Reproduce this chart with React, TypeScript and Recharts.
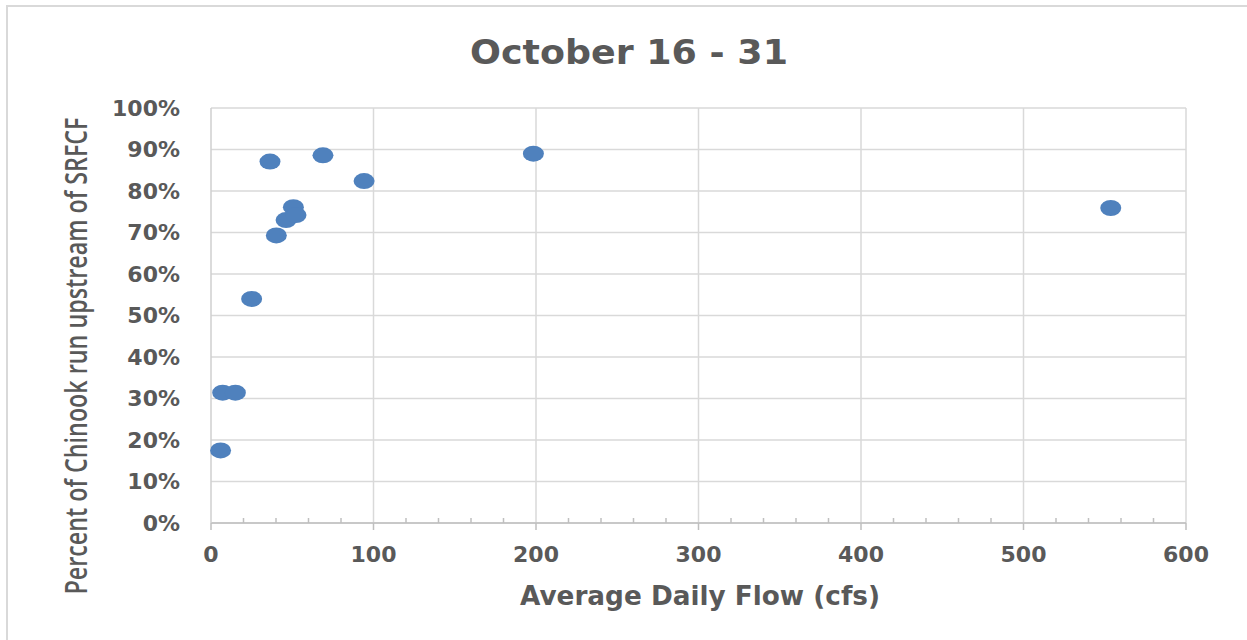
import React from 'react';
import {
  ScatterChart,
  Scatter,
  XAxis,
  YAxis,
  CartesianGrid,
  ReferenceLine
} from 'recharts';

// values
const flowCfs = [5.9, 7.2, 15.0, 25.0, 36.3, 40.2, 46.2, 50.7, 52.3, 68.9, 94.2, 198.4, 553.7];
const pctUpstream = [17.5, 31.4, 31.4, 54.0, 87.1, 69.3, 73.0, 76.1, 74.2, 88.6, 82.4, 89.0, 75.9];

const yTicks = [0, 10, 20, 30, 40, 50, 60, 70, 80, 90, 100];
const xMajorTicks = [0, 100, 200, 300, 400, 500, 600];
const xMinorTicks = [0, 20, 40, 60, 80, 100, 120, 140, 160, 180, 200, 220, 240, 260, 280, 300, 320, 340, 360, 380, 400, 420, 440, 460, 480, 500, 520, 540, 560, 580, 600];

const TEXT = '#595959';
const GRID = '#d9d9d9';
const AXIS = '#bfbfbf';
const DOT = '#4f81bd';

const points = flowCfs.map((x, i) => ({ x, y: pctUpstream[i] }));

// Excel-style dot, a bit wider than tall like the source image
const Ellipse = (props: any) => {
  const { cx, cy } = props;
  return <ellipse cx={cx} cy={cy} rx={10.5} ry={8} fill={DOT} />;
};

// x axis: labels on the hundreds, small minor ticks every 20
const XTick = (props: any) => {
  const { x, y, payload } = props;
  const v = payload.value as number;
  const major = v % 100 === 0;
  return (
    <g>
      {major ? (
        <line x1={x} y1={y} x2={x} y2={y + 7} stroke={AXIS} strokeWidth={1.5} />
      ) : (
        <line x1={x} y1={y - 5} x2={x} y2={y} stroke={AXIS} strokeWidth={1.5} />
      )}
      {major && (
        <text x={x} y={y + 39} textAnchor="middle" fill={TEXT} fontSize={22} fontWeight="bold" fontFamily="DejaVu Sans">
          {v}
        </text>
      )}
    </g>
  );
};

const App: React.FC = () => {
  return (
    <div style={{ position: 'absolute', left: 0, top: 0, width: 1247, height: 640, overflow: 'hidden', background: '#fff' }}>
      <div style={{ position: 'absolute', left: 6, top: 5, width: 1280, height: 680, border: `2px solid ${GRID}`, boxSizing: 'border-box' }} />
      <ScatterChart
        width={1247}
        height={640}
        margin={{ top: 108, right: 61, left: 151, bottom: 77 }}
        style={{ position: 'absolute', left: 0, top: 0 }}
      >
        <CartesianGrid vertical={false} stroke={GRID} strokeWidth={1.5} />
        {xMajorTicks.slice(1).map((v) => (
          <ReferenceLine key={v} x={v} stroke={GRID} strokeWidth={1.5} />
        ))}
        <XAxis
          type="number"
          dataKey="x"
          domain={[0, 600]}
          ticks={xMinorTicks}
          interval={0}
          height={40}
          tickLine={false}
          tickSize={0}
          tickMargin={0}
          axisLine={{ stroke: AXIS, strokeWidth: 1.5 }}
          tick={<XTick />}
        />
        <YAxis
          type="number"
          dataKey="y"
          domain={[0, 100]}
          ticks={yTicks}
          interval={0}
          width={60}
          tickLine={false}
          tickSize={0}
          tickMargin={31}
          axisLine={{ stroke: '#cfcfcf', strokeWidth: 1.5 }}
          tickFormatter={(v: number) => `${v}%`}
          tick={{ fill: TEXT, fontSize: 22, fontWeight: 'bold', fontFamily: 'DejaVu Sans' }}
        />
        <Scatter data={points} shape={<Ellipse />} isAnimationActive={false} />
      </ScatterChart>
      <svg width={1247} height={640} style={{ position: 'absolute', left: 0, top: 0, pointerEvents: 'none' }}>
        <text x={629} y={64} textAnchor="middle" fill={TEXT} fontSize={34} fontWeight="bold" fontFamily="DejaVu Sans" textLength={318} lengthAdjust="spacingAndGlyphs">
          October 16 - 31
        </text>
        <text x={700} y={605} textAnchor="middle" fill={TEXT} fontSize={26} fontWeight="bold" fontFamily="DejaVu Sans" textLength={360} lengthAdjust="spacingAndGlyphs">
          Average Daily Flow (cfs)
        </text>
        <text transform="translate(87,356) rotate(-90) scale(1,1.25)" textAnchor="middle" fill={TEXT} fontSize={24} fontWeight={600} fontFamily="Open Sans" textLength={477} lengthAdjust="spacingAndGlyphs">
          Percent of Chinook run upstream of SRFCF
        </text>
      </svg>
    </div>
  );
};

export default App;
